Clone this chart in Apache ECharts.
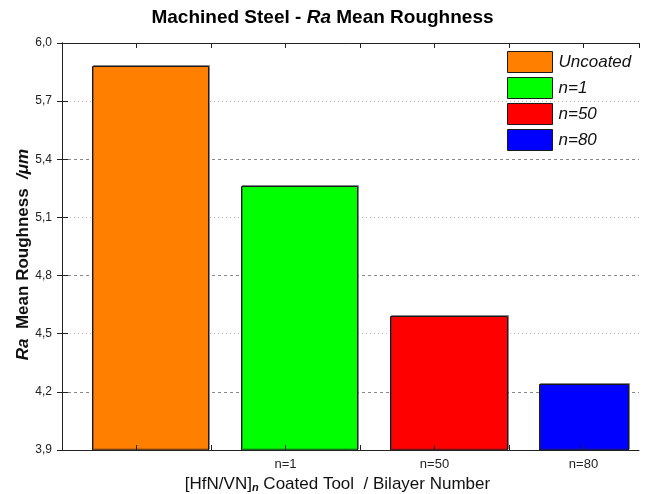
<!DOCTYPE html>
<html>
<head>
<meta charset="utf-8">
<script src="https://cdn.jsdelivr.net/npm/echarts@6/dist/echarts.min.js"></script>
<style>
html, body { margin: 0; padding: 0; background: #ffffff; }
#chart { width: 645px; height: 494px; }
</style>
</head>
<body>
<div id="chart"></div>
<script>
// data
const categories = ["Uncoated", "n=1", "n=50", "n=80"];
const roughness = [5.88, 5.26, 4.59, 4.24];
const xTickLabels = ["n=1", "n=50", "n=80"];
const yTickLabels = ["3,9", "4,2", "4,5", "4,8", "5,1", "5,4", "5,7", "6,0"];

// layout / style
const barColors = ["#ff8000", "#00ff00", "#ff0000", "#0000ff"];
const xLabelPos = [1.5, 2.5, 3.5];
const barStart = 0.2;
const barSpan = [0.78, 0.78, 0.785, 0.6];
const yMin = 3.9, yMax = 6.0;
const xMax = 3.8725;
const font = "Liberation Sans";

let myChart = echarts.init(document.getElementById("chart"));

let option = {
	animation: false,
	backgroundColor: "#ffffff",
	title: {
		text: "{b|Machined Steel - }{bi|Ra}{b| Mean Roughness}",
		left: "center",
		top: 3,
		padding: [5, 5, 5, 31],
		textStyle: {
			rich: {
				b: { fontFamily: font, fontSize: 19, fontWeight: "bold", color: "#000" },
				bi: { fontFamily: font, fontSize: 19, fontWeight: "bold", fontStyle: "italic", color: "#000" },
			},
		},
	},
	legend: {
		orient: "vertical",
		left: 507,
		top: 51,
		padding: 0,
		itemWidth: 45,
		itemHeight: 21,
		itemGap: 4,
		textStyle: { fontFamily: font, fontSize: 17, fontStyle: "italic", color: "#111", padding: [0, 0, 0, 1] },
		data: categories.map((name, i) => ({
			name: name,
			icon: "rect",
			itemStyle: { color: barColors[i], borderColor: "#1a1a1a", borderWidth: 1 },
		})),
	},
	grid: { left: 62, right: 6, top: 43, bottom: 44, containLabel: false, outerBoundsMode: "none" },
	xAxis: [
		{
			type: "value",
			position: "bottom",
			min: 0,
			max: xMax,
			interval: 0.5,
			z: 5,
			axisLine: { show: true, lineStyle: { color: "#222", width: 1 } },
			axisTick: { show: true, inside: true, length: 5, lineStyle: { color: "#222" } },
			splitLine: { show: false },
			axisLabel: {
				showMaxLabel: false,
				margin: 8,
				fontFamily: font,
				fontSize: 13,
				color: "#222",
				formatter: (v) => {
					let k = xLabelPos.indexOf(v);
					return k >= 0 ? xTickLabels[k] : "";
				},
			},
			name: "[HfN/VN]{s|n} Coated Tool  / Bilayer Number",
			nameLocation: "middle",
			nameGap: 26,
			nameTextStyle: {
				fontFamily: font,
				fontSize: 17,
				color: "#111",
				padding: [0, 26, 0, 0],
				rich: {
					s: { fontFamily: font, fontSize: 11, fontWeight: "bold", fontStyle: "italic", color: "#111", verticalAlign: "bottom", padding: [6, 0, 0, 0] },
				},
			},
		},
		{
			type: "value",
			position: "top",
			min: 0,
			max: xMax,
			interval: 0.5,
			z: 5,
			axisLine: { show: true, lineStyle: { color: "#222", width: 1 } },
			axisTick: { show: true, inside: true, length: 5, lineStyle: { color: "#222" } },
			splitLine: { show: false },
			axisLabel: { show: false },
		},
	],
	yAxis: [
		{
			type: "value",
			position: "left",
			min: yMin,
			max: yMax,
			interval: 0.3,
			axisLine: { show: true, lineStyle: { color: "#222", width: 1 } },
			axisTick: { show: true, inside: true, length: 6, lineStyle: { color: "#222" } },
			axisLabel: {
				margin: 10,
				fontFamily: font,
				fontSize: 12,
				color: "#222",
				formatter: (v) => yTickLabels[Math.round((v - yMin) / 0.3)],
			},
			splitLine: {
				show: true,
				showMinLine: true,
				showMaxLine: true,
				lineStyle: { color: ["rgba(0,0,0,0)", "#8a8a8a"], type: [3, 3], width: 1 },
			},
			name: "{i|Ra}  Mean Roughness  {i|/μm}",
			nameLocation: "middle",
			nameMoveOverlap: false,
			nameGap: 30,
			nameTextStyle: {
				fontFamily: font,
				fontSize: 17,
				fontWeight: "bold",
				color: "#111",
				padding: [0, 16, 0, 0],
				rich: {
					i: { fontFamily: font, fontSize: 17, fontWeight: "bold", fontStyle: "italic", color: "#111" },
				},
			},
		},
		{
			type: "value",
			position: "right",
			min: yMin,
			max: yMax,
			interval: 0.3,
			axisLine: { show: true, lineStyle: { color: "#222", width: 1 } },
			axisTick: { show: true, inside: true, length: 5, lineStyle: { color: "#222" } },
			axisLabel: { show: false },
			splitLine: {
				show: true,
				showMinLine: true,
				showMaxLine: true,
				lineStyle: { color: ["#b8b8b8", "rgba(0,0,0,0)"], type: [1, 3], width: 1 },
			},
		},
	],
	series: categories.map((name, i) => ({
		type: "custom",
		name: name,
		xAxisIndex: 0,
		yAxisIndex: 0,
		z: 2,
		itemStyle: { color: barColors[i] },
		encode: { x: 0, y: 1 },
		data: [[i, roughness[i]]],
		renderItem: (params, api) => {
			let x0 = api.value(0) + barStart;
			let top = api.coord([x0, api.value(1)]);
			let bottom = api.coord([x0, yMin]);
			let w = api.size([barSpan[i], 0])[0];
			let x = Math.round(top[0]) + 0.5;
			let y = Math.round(top[1]) + 0.5;
			return {
				type: "rect",
				shape: { x: x, y: y, width: Math.round(w), height: Math.round(bottom[1]) - y },
				style: {
					fill: barColors[i],
					stroke: "#1a1a1a",
					lineWidth: 1,
					shadowColor: "rgba(40,40,60,0.45)",
					shadowOffsetX: 1,
					shadowOffsetY: -1,
					shadowBlur: 0,
				},
			};
		},
	})),
};

myChart.setOption(option);
</script>
</body>
</html>
